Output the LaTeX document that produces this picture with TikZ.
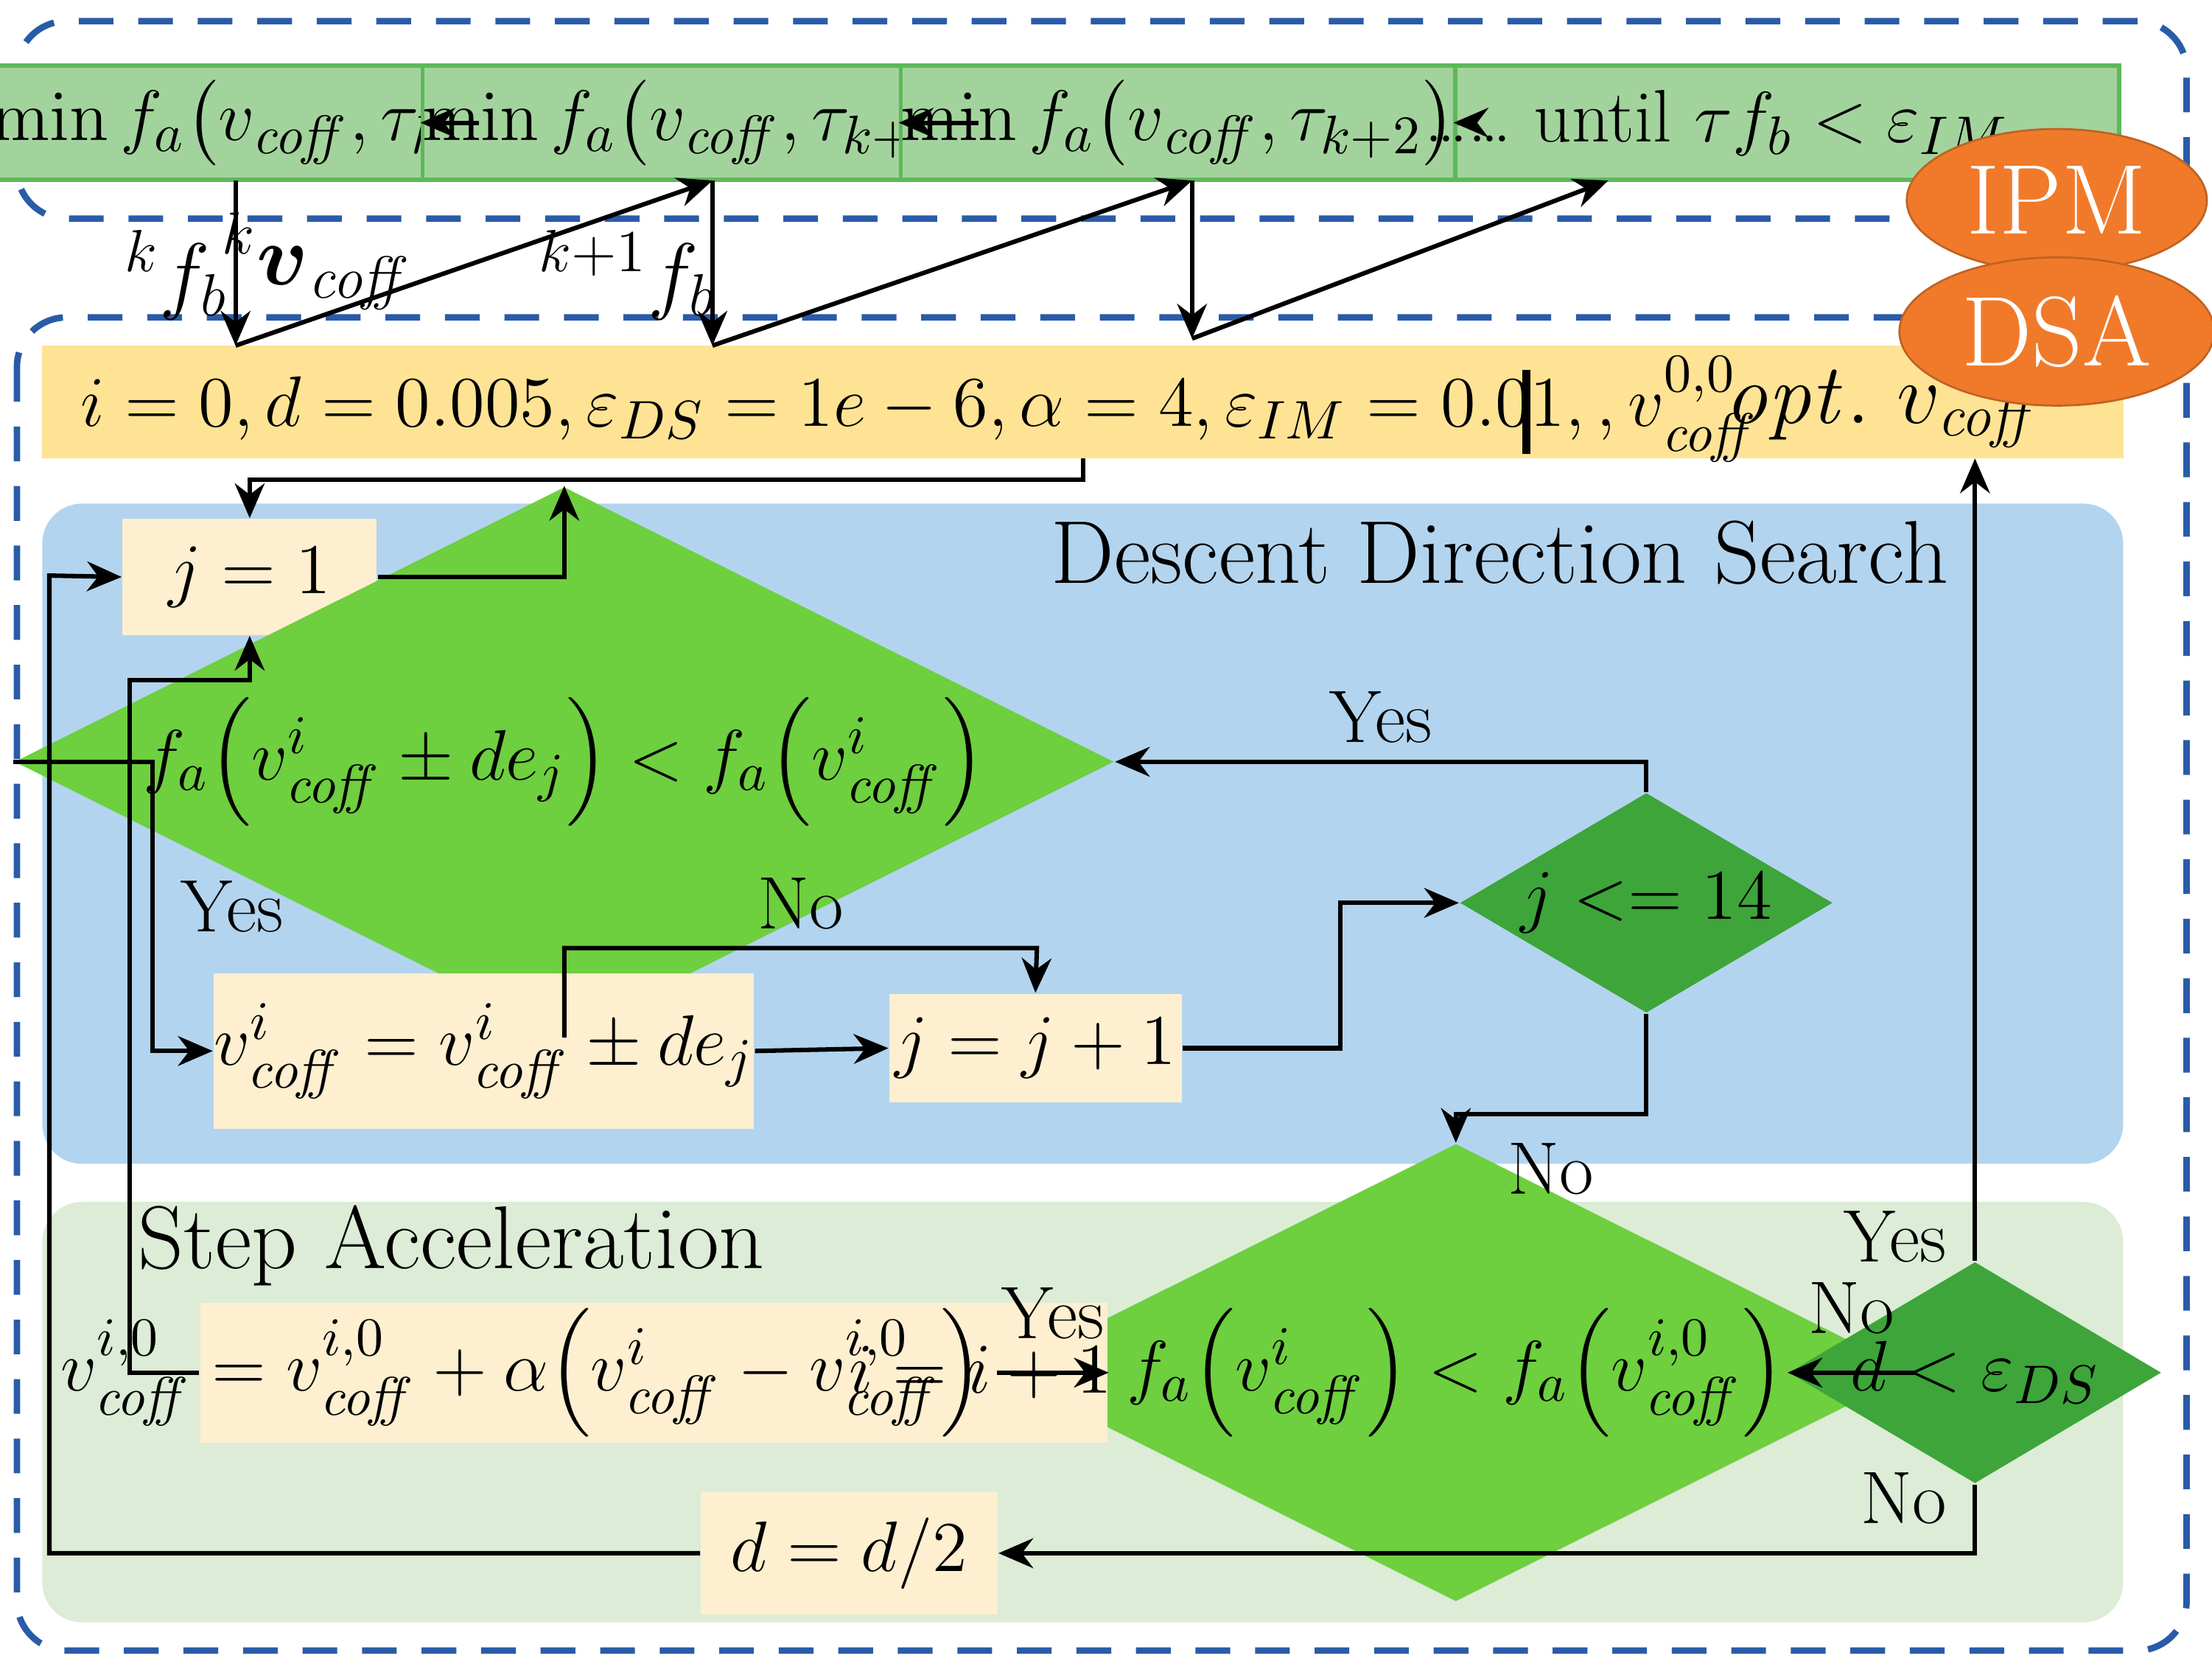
\documentclass[tikz,border=0pt]{standalone}
\usepackage{amsmath}
\usetikzlibrary{shapes.geometric,arrows.meta}
\definecolor{topg}{HTML}{A3D39C}
\definecolor{topgb}{HTML}{5DB85A}
\definecolor{orng}{HTML}{F07A2A}
\definecolor{yel}{HTML}{FFE394}
\definecolor{blu}{HTML}{B3D4EE}
\definecolor{lgr}{HTML}{DCECD6}
\definecolor{cream}{HTML}{FDEFCF}
\definecolor{dg1}{HTML}{6ECF3F}
\definecolor{dg2}{HTML}{3DA53A}
\definecolor{dashb}{HTML}{2A5BA8}
\tikzset{
 every node/.style={font=\fontsize{15}{18}\selectfont},
 tbox/.style={draw=topgb,fill=topg,line width=0.8pt,inner sep=0pt},
 box/.style={fill=cream,inner sep=0pt},
 dia/.style={diamond,inner sep=0pt,aspect=2},
 ln/.style={line width=0.9pt,-{Stealth[length=7pt,width=6pt]}},
 reg/.style={draw=dashb,line width=1.3pt,dash pattern=on 7pt off 5pt,rounded corners=10pt},
}
\newcommand{\vc}{v_{\mathit{coff}}}
\begin{document}
\begin{tikzpicture}[x=0.01cm,y=-0.01cm]
\useasboundingbox (0,0) rectangle (1568,1183);
\draw[reg] (12,15) rectangle (1550,155);
\draw[reg] (12,225) rectangle (1550,1170);
% regions
\fill[blu,rounded corners=8pt] (30,357) rectangle (1505,825);
\fill[lgr,rounded corners=8pt] (30,852) rectangle (1505,1150);
\node at (1063,392) {\fontsize{18}{20}\selectfont Descent Direction Search};
\node at (320,883) {\fontsize{18}{20}\selectfont Step Acceleration};
% top boxes
\node[tbox,minimum width=2.72cm,minimum height=0.81cm] (t1) at (166,87) {$\min f_a\!\left(\vc,\tau_k\right)$};
\node[tbox,minimum width=2.88cm,minimum height=0.81cm] (t2) at (496,87) {$\min f_a\!\left(\vc,\tau_{k+1}\right)$};
\node[tbox,minimum width=2.85cm,minimum height=0.81cm] (t3) at (835,87) {$\min f_a\!\left(\vc,\tau_{k+2}\right)$};
\node[tbox,minimum width=4.70cm,minimum height=0.81cm] (t4) at (1267,87) {\hspace*{-1cm}\dots\dots\ until $\tau f_b<\varepsilon_{IM}$};
\draw[ln] (t1) -- (t2);
\draw[ln] (t2) -- (t3);
\draw[ln] (t3) -- (t4);
% yellow bar
\node[fill=yel,minimum width=14.75cm,minimum height=0.80cm,inner sep=0pt] (bar) at (767.5,285) {};
\node[anchor=west] (init) at (45,290) {$i=0,d=0.005,\varepsilon_{DS}=1e-6,\alpha=4,\varepsilon_{IM}=0.01,,v^{0,0}_{\mathit{coff}}$};
\draw[line width=1.5pt] (1082,262) -- (1082,322);
\node (opt) at (1335,290) {\fontsize{18}{20}\selectfont $\mathit{opt.}\ \vc$};
% ellipses
\node[ellipse,fill=orng,draw=orng!80!black,minimum width=2.08cm,minimum height=0.80cm] (ipm) at (1458,142) {\color{white}\fontsize{20}{22}\selectfont IPM};
\node[ellipse,fill=orng,draw=orng!80!black,minimum width=2.08cm,minimum height=0.80cm] (dsa) at (1458,235) {\color{white}\fontsize{20}{22}\selectfont DSA};
% zigzag
\coordinate (z1) at (167,245); \coordinate (z2) at (505,245); \coordinate (z3) at (845,240);
\coordinate (u1) at (167,128); \coordinate (u2) at (505,128); \coordinate (u3) at (845,128); \coordinate (u4) at (1140,128);
\draw[ln] (u1) -- (z1); \draw[ln] (z1) -- (u2);
\draw[ln] (u2) -- (z2); \draw[ln] (z2) -- (u3);
\draw[ln] (u3) -- (z3); \draw[ln] (z3) -- (u4);
\node at (125,195) {\fontsize{18}{20}\selectfont $^{k}f_b$};
\node at (225,185) {\fontsize{18}{20}\selectfont $^{k}\boldsymbol{v}_{\mathit{coff}}$};
\node at (445,195) {\fontsize{18}{20}\selectfont $^{k+1}f_b$};
% flow nodes
\node[box,minimum width=1.80cm,minimum height=0.82cm] (j1) at (177,409) {$j=1$};
\node[dia,fill=dg1,minimum width=5.42cm,minimum height=2.0cm] (d1) at (400,540) {$f_a\!\left(v^{i}_{\mathit{coff}}\pm de_j\right)<f_a\!\left(v^{i}_{\mathit{coff}}\right)$};
\node[dia,fill=dg2,minimum width=2.07cm,minimum height=1.56cm] (d2) at (1167,640) {$j<=14$};
\node[box,minimum width=2.07cm,minimum height=0.77cm] (jj) at (734,743) {$j=j+1$};
\node[box,minimum width=2.95cm,minimum height=1.10cm] (vb) at (343,745) {$v^{i}_{\mathit{coff}}=v^{i}_{\mathit{coff}}\pm de_j$};
\node[dia,fill=dg1,minimum width=3.97cm,minimum height=2.23cm] (d3) at (1032,973) {$f_a\!\left(v^{i}_{\mathit{coff}}\right)<f_a\!\left(v^{i,0}_{\mathit{coff}}\right)$};
\node[dia,fill=dg2,minimum width=2.06cm,minimum height=1.57cm] (d4) at (1400,973) {$d<\varepsilon_{DS}$};
\node[box,minimum width=6.43cm,minimum height=0.99cm] (ab) at (463.5,973) {};
\node at (370,973) {$v^{i,0}_{\mathit{coff}}=v^{i,0}_{\mathit{coff}}+\alpha\!\left(v^{i}_{\mathit{coff}}-v^{i,0}_{\mathit{coff}}\right)$};
\node at (695,973) {$i=i+1$};
\node[box,minimum width=2.10cm,minimum height=0.87cm] (dd) at (602,1101) {$d=d/2$};
% connectors
\coordinate (c0) at (768,325);
\draw[ln] (c0) -- (768,340) -| (j1.north);
\draw[ln] (j1.east) -| (d1.north);
\draw[ln] (d2.north) |- (d1.east) node[pos=0.75,above] {Yes};
\draw[ln] (d1.south) |- (735,672) node[pos=0.75,above] {No} -- (jj.north);
\draw[ln] (d1.west) -- (108,540) |- (vb.west) node[pos=0.25,right=2pt] {Yes};
\draw[ln] (vb.east) -- (jj.west);
\draw[ln] (jj.east) -| (950,640) -- (d2.west);
\draw[ln] (d2.south) |- (1032,790) node[pos=0.75,below=2pt] {No} -- (d3.north);
\draw[ln] (d3.east) -- (d4.west) node[midway,above=4pt] {No};
\draw[ln] (d4.north) -- (1400,325) node[pos=0.03,left=2pt] {Yes};
\draw[ln] (d4.south) |- (dd.east) node[pos=0.1,left=2pt] {No};
\draw[ln] (d3.west) -- (ab.east) node[midway,above=3pt] {Yes};
\draw[ln] (dd.west) -| (35,408) -- (j1.west);
\draw[ln] (ab.west) -| (92,482) -| (j1.south);
\end{tikzpicture}
\end{document}
